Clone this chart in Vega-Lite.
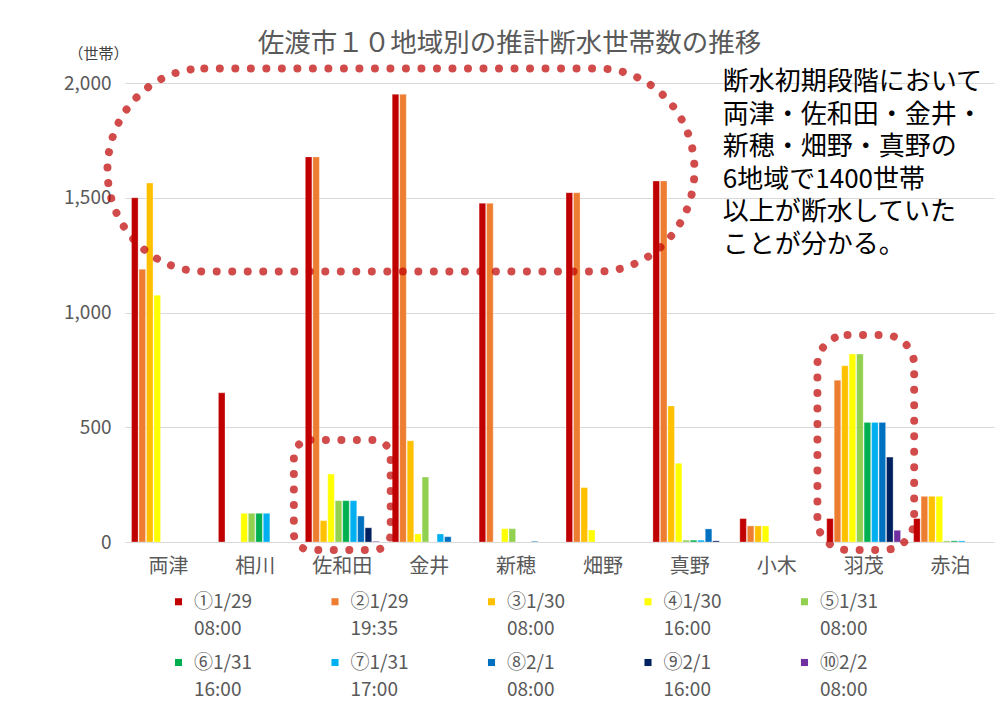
{
  "$schema": "https://vega.github.io/schema/vega-lite/v6.json",
  "width": 869,
  "height": 459,
  "autosize": {"type": "none"},
  "padding": {"left": 125, "top": 83, "right": 4, "bottom": 167},
  "background": "white",
  "config": {
    "font": "Noto Sans CJK JP",
    "view": {"stroke": null},
    "style": {"guide-label": {"lineHeight": 27}}
  },
  "title": {
    "text": "佐渡市１０地域別の推計断水世帯数の推移",
    "fontSize": 26.5,
    "fontWeight": "normal",
    "color": "#595959",
    "anchor": "middle",
    "frame": "group",
    "dx": -50,
    "dy": 41,
    "offset": 30
  },
  "layer": [
    {
      "data": {
        "values": [
          {"region": "両津", "series": "①1/29|08:00", "value": 1500},
          {"region": "両津", "series": "②1/29|19:35", "value": 1188},
          {"region": "両津", "series": "③1/30|08:00", "value": 1564},
          {"region": "両津", "series": "④1/30|16:00", "value": 1075},
          {"region": "相川", "series": "①1/29|08:00", "value": 650},
          {"region": "相川", "series": "④1/30|16:00", "value": 125},
          {"region": "相川", "series": "⑤1/31|08:00", "value": 125},
          {"region": "相川", "series": "⑥1/31|16:00", "value": 125},
          {"region": "相川", "series": "⑦1/31|17:00", "value": 125},
          {"region": "佐和田", "series": "①1/29|08:00", "value": 1678},
          {"region": "佐和田", "series": "②1/29|19:35", "value": 1678},
          {"region": "佐和田", "series": "③1/30|08:00", "value": 93},
          {"region": "佐和田", "series": "④1/30|16:00", "value": 296},
          {"region": "佐和田", "series": "⑤1/31|08:00", "value": 180},
          {"region": "佐和田", "series": "⑥1/31|16:00", "value": 180},
          {"region": "佐和田", "series": "⑦1/31|17:00", "value": 180},
          {"region": "佐和田", "series": "⑧2/1|08:00", "value": 113},
          {"region": "佐和田", "series": "⑨2/1|16:00", "value": 62},
          {"region": "佐和田", "series": "⑩2/2|08:00", "value": 3},
          {"region": "金井", "series": "①1/29|08:00", "value": 1951},
          {"region": "金井", "series": "②1/29|19:35", "value": 1951},
          {"region": "金井", "series": "③1/30|08:00", "value": 441},
          {"region": "金井", "series": "④1/30|16:00", "value": 35},
          {"region": "金井", "series": "⑤1/31|08:00", "value": 283},
          {"region": "金井", "series": "⑦1/31|17:00", "value": 35},
          {"region": "金井", "series": "⑧2/1|08:00", "value": 23},
          {"region": "新穂", "series": "①1/29|08:00", "value": 1476},
          {"region": "新穂", "series": "②1/29|19:35", "value": 1476},
          {"region": "新穂", "series": "④1/30|16:00", "value": 58},
          {"region": "新穂", "series": "⑤1/31|08:00", "value": 58},
          {"region": "新穂", "series": "⑧2/1|08:00", "value": 3},
          {"region": "畑野", "series": "①1/29|08:00", "value": 1522},
          {"region": "畑野", "series": "②1/29|19:35", "value": 1522},
          {"region": "畑野", "series": "③1/30|08:00", "value": 237},
          {"region": "畑野", "series": "④1/30|16:00", "value": 52},
          {"region": "真野", "series": "①1/29|08:00", "value": 1573},
          {"region": "真野", "series": "②1/29|19:35", "value": 1573},
          {"region": "真野", "series": "③1/30|08:00", "value": 593},
          {"region": "真野", "series": "④1/30|16:00", "value": 343},
          {"region": "真野", "series": "⑤1/31|08:00", "value": 8},
          {"region": "真野", "series": "⑥1/31|16:00", "value": 8},
          {"region": "真野", "series": "⑦1/31|17:00", "value": 8},
          {"region": "真野", "series": "⑧2/1|08:00", "value": 57},
          {"region": "真野", "series": "⑨2/1|16:00", "value": 5},
          {"region": "小木", "series": "①1/29|08:00", "value": 102},
          {"region": "小木", "series": "②1/29|19:35", "value": 70},
          {"region": "小木", "series": "③1/30|08:00", "value": 70},
          {"region": "小木", "series": "④1/30|16:00", "value": 70},
          {"region": "羽茂", "series": "①1/29|08:00", "value": 102},
          {"region": "羽茂", "series": "②1/29|19:35", "value": 705},
          {"region": "羽茂", "series": "③1/30|08:00", "value": 768},
          {"region": "羽茂", "series": "④1/30|16:00", "value": 819},
          {"region": "羽茂", "series": "⑤1/31|08:00", "value": 819},
          {"region": "羽茂", "series": "⑥1/31|16:00", "value": 521},
          {"region": "羽茂", "series": "⑦1/31|17:00", "value": 521},
          {"region": "羽茂", "series": "⑧2/1|08:00", "value": 521},
          {"region": "羽茂", "series": "⑨2/1|16:00", "value": 370},
          {"region": "羽茂", "series": "⑩2/2|08:00", "value": 51},
          {"region": "赤泊", "series": "①1/29|08:00", "value": 102},
          {"region": "赤泊", "series": "②1/29|19:35", "value": 199},
          {"region": "赤泊", "series": "③1/30|08:00", "value": 199},
          {"region": "赤泊", "series": "④1/30|16:00", "value": 199},
          {"region": "赤泊", "series": "⑤1/31|08:00", "value": 5},
          {"region": "赤泊", "series": "⑥1/31|16:00", "value": 5},
          {"region": "赤泊", "series": "⑦1/31|17:00", "value": 5}
        ]
      },
      "mark": {"type": "bar", "stroke": "white", "strokeWidth": 0.5, "strokeOpacity": 0.6},
      "encoding": {
        "x": {
          "field": "region",
          "type": "nominal",
          "sort": ["両津", "相川", "佐和田", "金井", "新穂", "畑野", "真野", "小木", "羽茂", "赤泊"],
          "scale": {"domain": ["両津", "相川", "佐和田", "金井", "新穂", "畑野", "真野", "小木", "羽茂", "赤泊"], "paddingInner": 0.15, "paddingOuter": 0.075},
          "axis": {
            "title": null,
            "labelAngle": 0,
            "labelFontSize": 20,
            "labelColor": "#595959",
            "labelPadding": 14,
            "ticks": false,
            "domain": false
          }
        },
        "xOffset": {
          "field": "series",
          "type": "nominal",
          "scale": {
            "domain": ["①1/29|08:00", "②1/29|19:35", "③1/30|08:00", "④1/30|16:00", "⑤1/31|08:00", "⑥1/31|16:00", "⑦1/31|17:00", "⑧2/1|08:00", "⑨2/1|16:00", "⑩2/2|08:00"],
            "paddingInner": 0.12,
            "paddingOuter": 0
          }
        },
        "y": {
          "field": "value",
          "type": "quantitative",
          "scale": {"domain": [0, 2000], "nice": false},
          "axis": {
            "values": [0, 500, 1000, 1500, 2000],
            "format": ",.0f",
            "labelFontSize": 19,
            "labelColor": "#595959",
            "labelPadding": 14,
            "ticks": false,
            "domain": false,
            "gridColor": "#D9D9D9",
            "title": "（世帯）",
            "titleAngle": 0,
            "titleAlign": "left",
            "titleBaseline": "middle",
            "titleX": -57,
            "titleY": -30,
            "titleFontSize": 15,
            "titleFontWeight": "normal",
            "titleColor": "#404040"
          }
        },
        "color": {
          "field": "series",
          "type": "nominal",
          "scale": {
            "domain": ["①1/29|08:00", "②1/29|19:35", "③1/30|08:00", "④1/30|16:00", "⑤1/31|08:00", "⑥1/31|16:00", "⑦1/31|17:00", "⑧2/1|08:00", "⑨2/1|16:00", "⑩2/2|08:00"],
            "range": ["#C00000", "#ED7D31", "#FFC000", "#FFFF00", "#92D050", "#00B050", "#00B0F0", "#0070C0", "#002060", "#7030A0"]
          },
          "legend": {
            "orient": "none",
            "legendX": 44,
            "legendY": 509,
            "direction": "horizontal",
            "columns": 5,
            "title": null,
            "symbolType": "square",
            "symbolSize": 50,
            "symbolStrokeWidth": 0,
            "labelFontSize": 19,
            "labelColor": "#595959",
            "labelExpr": "split(datum.label, '|')",
            "labelOffset": 6,
            "labelLimit": 0,
            "columnPadding": 72.5,
            "rowPadding": 14,
            "gridAlign": "all"
          }
        }
      }
    },
    {
      "data": {"values": [{"region": "佐和田", "value": 1621}]},
      "mark": {
        "type": "point",
        "shape": "M-0.47,-0.346 L0.87,-0.346 A0.33,0.346 0 0,1 0.87,0.346 L-0.47,0.346 A0.33,0.346 0 0,1 -0.47,-0.346 Z",
        "size": 344569,
        "filled": false,
        "stroke": "#C00000",
        "strokeWidth": 8,
        "strokeOpacity": 1,
        "strokeDash": [0.01, 15.5],
        "strokeCap": "round"
      },
      "encoding": {
        "x": {"field": "region", "type": "nominal"},
        "y": {"field": "value", "type": "quantitative"}
      }
    },
    {
      "data": {"values": [{"region": "佐和田", "value": 205}]},
      "mark": {
        "type": "point",
        "shape": "M-0.58,-1 L0.58,-1 A0.3,0.3 0 0,1 0.88,-0.7 L0.88,0.7 A0.3,0.3 0 0,1 0.58,1 L-0.58,1 A0.3,0.3 0 0,1 -0.88,0.7 L-0.88,-0.7 A0.3,0.3 0 0,1 -0.58,-1 Z",
        "size": 12100,
        "filled": false,
        "stroke": "#C00000",
        "strokeWidth": 8,
        "strokeOpacity": 1,
        "strokeDash": [0.01, 15.5],
        "strokeCap": "round"
      },
      "encoding": {
        "x": {"field": "region", "type": "nominal"},
        "y": {"field": "value", "type": "quantitative"}
      }
    },
    {
      "data": {"values": [{"region": "羽茂", "value": 434}]},
      "mark": {
        "type": "point",
        "shape": "M-0.15,-1 L0.19,-1 A0.28,0.28 0 0,1 0.47,-0.72 L0.47,0.72 A0.28,0.28 0 0,1 0.19,1 L-0.15,1 A0.28,0.28 0 0,1 -0.43,0.72 L-0.43,-0.72 A0.28,0.28 0 0,1 -0.15,-1 Z",
        "size": 46225,
        "filled": false,
        "stroke": "#C00000",
        "strokeWidth": 8,
        "strokeOpacity": 1,
        "strokeDash": [0.01, 15.5],
        "strokeCap": "round"
      },
      "encoding": {
        "x": {"field": "region", "type": "nominal"},
        "y": {"field": "value", "type": "quantitative"}
      }
    },
    {
      "data": {"values": [{"region": "真野", "value": 2000, "note": "断水初期段階において\n両津・佐和田・金井・\n新穂・畑野・真野の\n6地域で1400世帯\n以上が断水していた\nことが分かる。"}]},
      "mark": {
        "type": "text",
        "align": "left",
        "baseline": "top",
        "dx": 33,
        "dy": -14,
        "fontSize": 26,
        "lineHeight": 32.5,
        "lineBreak": "\n",
        "color": "#000000"
      },
      "encoding": {
        "x": {"field": "region", "type": "nominal"},
        "y": {"field": "value", "type": "quantitative"},
        "text": {"field": "note"}
      }
    }
  ]
}
